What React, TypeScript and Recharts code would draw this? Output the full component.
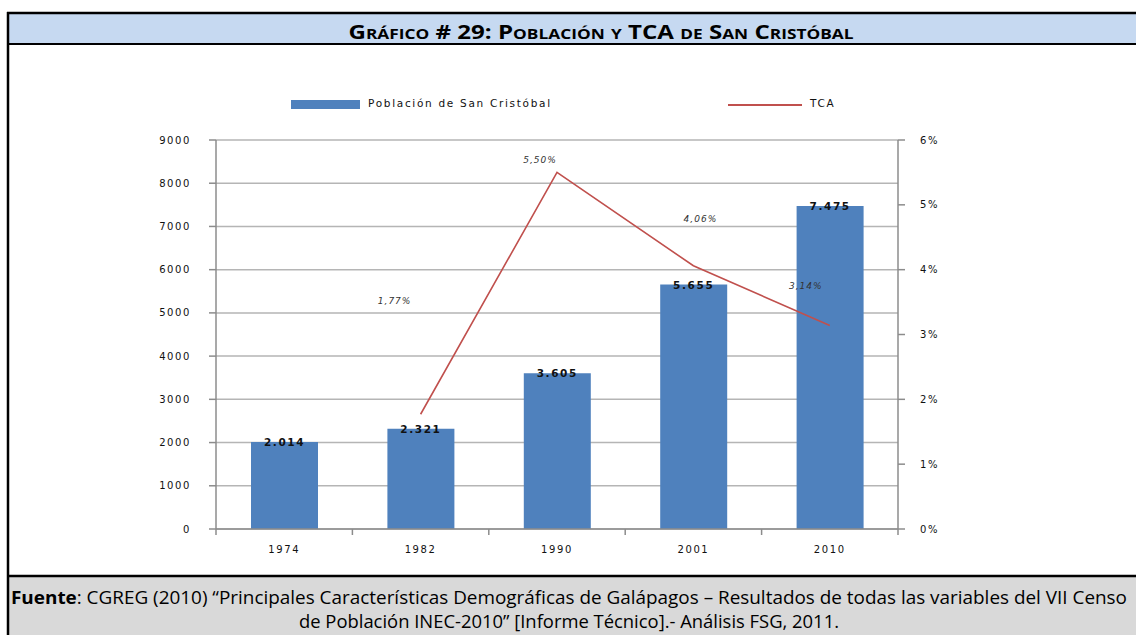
import React from 'react';
import { ComposedChart, Bar, Line, XAxis, YAxis, CartesianGrid, Legend } from 'recharts';

const years = ['1974', '1982', '1990', '2001', '2010'];
const population = [2014, 2321, 3605, 5655, 7475];
const tca = [null, 1.77, 5.5, 4.06, 3.14];
const popTicks = [0, 1000, 2000, 3000, 4000, 5000, 6000, 7000, 8000, 9000];
const tcaTicks = [0, 1, 2, 3, 4, 5, 6];

const seriesNames = { pop: 'Población de San Cristóbal', tca: 'TCA' };
const titleText = 'Gráfico # 29: Población y TCA de San Cristóbal';
const footLine1Rest =
  ': CGREG (2010) “Principales Características Demográficas de Galápagos – Resultados de todas las variables del VII Censo';
const footLine2 = 'de Población INEC-2010” [Informe Técnico].- Análisis FSG, 2011.';

const data = years.map((y, i) => ({ year: y, pop: population[i], tca: tca[i] }));

const W = 1136;
const H = 635;
const LEGEND_H = 20;
const M = { top: 140 - LEGEND_H, right: 0, bottom: 76, left: 0 };
const LEFT_W = 216;
const RIGHT_W = 238;
const BAND = (W - LEFT_W - RIGHT_W) / years.length;

const BLUE = '#4F81BD';
const RED = '#C0504D';
const AXIS = '#8C8C8C';
const GRID = '#B5B5B5';
const FONT = 'DejaVu Sans, Verdana, sans-serif';
const FRAME_FONT = '"Liberation Sans Narrow", "Open Sans", "Noto Sans", sans-serif';

// manual label offsets (layout only) for the TCA labels, relative to each point
const tcaLabelOffsets = [
  [0, 0],
  [-26, -113],
  [-17, -12],
  [7, -46],
  [-24, -39],
];

const fmtPop = (v: number) => v.toLocaleString('de-DE');
const fmtTca = (v: number) => v.toFixed(2).replace('.', ',') + '%';

const BarLabel = (props: any) => {
  const { x, y, width, value } = props;
  return (
    <text
      x={x + width / 2}
      y={y + 4}
      textAnchor="middle"
      fontFamily={FONT}
      fontSize={10.5}
      fontWeight="bold"
      letterSpacing={1.6}
      fill="#111"
    >
      {fmtPop(value)}
    </text>
  );
};

const LineLabel = (props: any) => {
  const { x, y, value, index } = props;
  if (value == null || x == null || y == null) return null;
  const off = tcaLabelOffsets[index] || [0, -10];
  return (
    <text
      x={x + off[0]}
      y={y + off[1]}
      textAnchor="middle"
      dominantBaseline="middle"
      fontFamily={FONT}
      fontSize={9}
      fontStyle="italic"
      letterSpacing={1}
      fill="#333"
    >
      {fmtTca(value)}
    </text>
  );
};

const XTick = (props: any) => {
  const { x, y, payload, index } = props;
  const last = index === years.length - 1;
  return (
    <g>
      <line x1={x - BAND / 2} x2={x - BAND / 2} y1={y} y2={y + 6} stroke={AXIS} strokeWidth={1.5} />
      {last && <line x1={x + BAND / 2} x2={x + BAND / 2} y1={y} y2={y + 6} stroke={AXIS} strokeWidth={1.5} />}
      <text
        x={x}
        y={y + 24}
        textAnchor="middle"
        fontFamily={FONT}
        fontSize={10}
        letterSpacing={1.6}
        fill="#111"
      >
        {payload.value}
      </text>
    </g>
  );
};

const legendText: React.CSSProperties = {
  position: 'absolute',
  top: 4,
  fontFamily: FONT,
  fontSize: 10.5,
  letterSpacing: 1.7,
  color: '#111',
  whiteSpace: 'nowrap',
};

const LegendContent = () => (
  <div style={{ position: 'relative', width: W, height: LEGEND_H }}>
    <div style={{ position: 'absolute', left: 291, top: 7, width: 69, height: 9, background: BLUE }} />
    <div style={{ ...legendText, left: 368 }}>{seriesNames.pop}</div>
    <div style={{ position: 'absolute', left: 728, top: 11, width: 74, height: 2, background: RED }} />
    <div style={{ ...legendText, left: 810 }}>{seriesNames.tca}</div>
  </div>
);

const Frame = () => (
  <svg width={W} height={H} style={{ position: 'absolute', left: 0, top: 0 }}>
    <rect x={0} y={0} width={W} height={H} fill="#ffffff" />
    <rect x={8} y={13} width={W - 8} height={31} fill="#C6D9F1" />
    <rect x={8} y={577} width={W - 8} height={H - 577} fill="#D9D9D9" />
    <line x1={7} x2={W} y1={13} y2={13} stroke="#000" strokeWidth={2.5} />
    <line x1={7} x2={W} y1={44} y2={44} stroke="#000" strokeWidth={2} />
    <line x1={7} x2={W} y1={576} y2={576} stroke="#000" strokeWidth={2.5} />
    <line x1={8} x2={8} y1={12} y2={H} stroke="#000" strokeWidth={2.5} />
    <text
      x={601}
      y={39}
      textAnchor="middle"
      fontFamily={FRAME_FONT}
      fontSize={19.5}
      fontWeight="bold"
      style={{ fontVariant: 'small-caps' }}
      textLength={505}
      lengthAdjust="spacingAndGlyphs"
      fill="#000"
    >
      {titleText}
    </text>
    <text
      x={569}
      y={604}
      textAnchor="middle"
      fontFamily={FRAME_FONT}
      fontSize={17.5}
      textLength={1116}
      lengthAdjust="spacingAndGlyphs"
      fill="#000"
    >
      <tspan fontWeight="bold">Fuente</tspan>
      {footLine1Rest}
    </text>
    <text
      x={569}
      y={628}
      textAnchor="middle"
      fontFamily={FRAME_FONT}
      fontSize={17.5}
      textLength={540}
      lengthAdjust="spacingAndGlyphs"
      fill="#000"
    >
      {footLine2}
    </text>
  </svg>
);

export default function App() {
  return (
    <div style={{ position: 'absolute', left: 0, top: 0, width: W, height: H, overflow: 'hidden' }}>
      <Frame />
      <div style={{ position: 'absolute', left: 0, top: 0 }}>
        <ComposedChart width={W} height={H} data={data} margin={M}>
          <CartesianGrid vertical={false} horizontal stroke={GRID} strokeWidth={1.5} yAxisId="left" />
          <XAxis
            dataKey="year"
            xAxisId={0}
            axisLine={{ stroke: AXIS, strokeWidth: 1.5 }}
            tickLine={false}
            tickSize={0}
            tickMargin={0}
            height={30}
            interval={0}
            tick={<XTick />}
          />
          <YAxis
            yAxisId="left"
            orientation="left"
            width={LEFT_W}
            domain={[0, 9000]}
            ticks={popTicks}
            interval={0}
            axisLine={{ stroke: AXIS, strokeWidth: 1.5 }}
            tickLine={{ stroke: AXIS, strokeWidth: 1.5 }}
            tickSize={7}
            tickMargin={18}
            tick={{ fontFamily: FONT, fontSize: 10, fill: '#111', letterSpacing: 1.6 }}
          />
          <YAxis
            yAxisId="right"
            orientation="right"
            width={RIGHT_W}
            domain={[0, 6]}
            ticks={tcaTicks}
            interval={0}
            tickFormatter={(v: number) => `${v}%`}
            axisLine={{ stroke: AXIS, strokeWidth: 1.5 }}
            tickLine={{ stroke: AXIS, strokeWidth: 1.5 }}
            tickSize={7}
            tickMargin={15}
            tick={{ fontFamily: FONT, fontSize: 10, fill: '#111', letterSpacing: 1.6 }}
          />
          <Legend
            verticalAlign="top"
            height={LEGEND_H}
            content={<LegendContent />}
            wrapperStyle={{ position: 'absolute', top: 93, left: 0, width: W, height: LEGEND_H }}
          />
          <Bar
            dataKey="pop"
            name={seriesNames.pop}
            yAxisId="left"
            fill={BLUE}
            barSize={67}
            isAnimationActive={false}
            label={<BarLabel />}
          />
          <Line
            dataKey="tca"
            name={seriesNames.tca}
            yAxisId="right"
            stroke={RED}
            strokeWidth={1.6}
            dot={false}
            activeDot={false}
            connectNulls={false}
            isAnimationActive={false}
            label={<LineLabel />}
          />
        </ComposedChart>
      </div>
    </div>
  );
}
